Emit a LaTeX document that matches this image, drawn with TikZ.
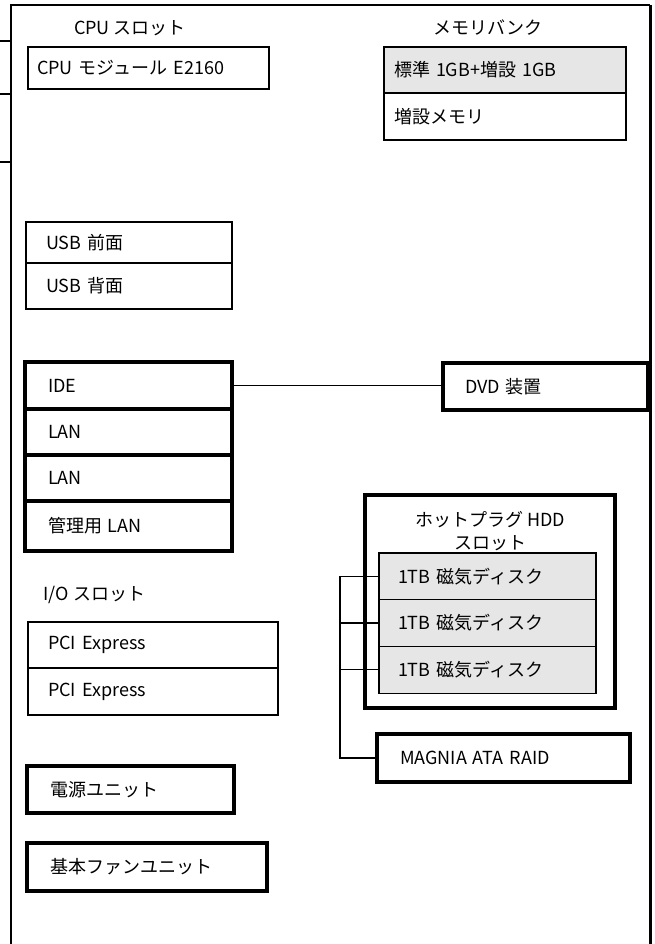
\documentclass[tikz,border=0pt]{standalone}
\usepackage{fontspec}
\setmainfont{Noto Sans CJK JP}
\usepackage{xcolor}
\usepackage{tikz}
\usetikzlibrary{positioning}

\definecolor{slotgray}{HTML}{E6E6E6}

\begin{document}
\begin{tikzpicture}[x=1pt, y=-1pt,
    font=\fontsize{18pt}{23pt}\selectfont,
    part/.style n args={3}{draw, anchor=north west, outer sep=0pt, align=left,
        inner ysep=0pt, text width={#1pt-2*#3pt}, inner xsep=#3pt, minimum height=#2pt},
    heavy/.style={line width=3.2pt},
    light/.style={line width=1.1pt},
    bus/.style={line width=1.3pt}]
    \useasboundingbox (0,0) rectangle (655,944);

    % Draw the chassis outline
    \draw[line width=2.2pt] (11,944) |- (650,5);
    \draw[line width=3pt] (650,5) -- (650,944);
    \foreach \y in {41,94,162} {
        \coordinate (stubL\y) at (0,\y);
        \coordinate (stubR\y) at (11,\y);
        \draw[line width=1.5pt] (stubL\y) -- (stubR\y);
    }

    % CPU slot and memory bank
    \node (cputitle) at (130,28) {CPU スロット};
    \node[part={241}{42}{9}, line width=2.4pt] (cpu) at (28,47) {CPU モジュール E2160};
    \node (memtitle) at (488,28) {メモリバンク};
    \node[part={242}{46}{10}, line width=2.4pt, fill=slotgray] (mem1) at (384,47) {標準 1GB+増設 1GB};
    \node[part={242}{47}{10}, light, below=0pt of mem1] (mem2) {増設メモリ};

    % USB ports
    \node[part={206}{41}{20}, light] (usbf) at (26,222) {USB 前面};
    \node[part={206}{46}{20}, light, below=0pt of usbf] (usbb) {USB 背面};

    % On-board interfaces
    \node[part={207}{47}{23}, heavy] (ide) at (25,362) {IDE};
    \node[part={207}{46}{23}, heavy, below=0pt of ide] (lan1) {LAN};
    \node[part={207}{46}{23}, heavy, below=0pt of lan1] (lan2) {LAN};
    \node[part={207}{50}{23}, heavy, below=0pt of lan2] (mgmt) {管理用 LAN};
    \node[part={205}{47}{22}, heavy] (dvd) at (443,363) {DVD 装置};
    \draw[light] (ide.east) -- (ide.east -| dvd.west);

    % I/O slots
    \node[anchor=west] (iotitle) at (40,595) {I/O スロット};
    \node[part={250}{46}{20}, light] (pci1) at (28,622) {PCI Express};
    \node[part={250}{47}{20}, light, below=0pt of pci1] (pci2) {PCI Express};

    % Power and fan
    \node[part={207}{47}{23}, heavy] (psu) at (27,766) {電源ユニット};
    \node[part={240}{48}{23}, heavy] (fan) at (27,843) {基本ファンユニット};

    % Hot-plug HDD slot with disks
    \node[draw, heavy, anchor=north west, outer sep=0pt, minimum width=250pt, minimum height=213pt] (hddslot) at (365,495) {};
    \node[align=center, inner sep=0pt] (hddtitle) at (490,531) {ホットプラグ HDD\\スロット};
    \foreach \i in {1,2,3} {
        \node[part={217}{46.7}{19}, light, fill=slotgray] (disk\i) at (379,{553+(\i-1)*46.7}) {1TB 磁気ディスク};
    }
    \node[part={253}{48}{23}, heavy] (raid) at (377,734) {MAGNIA ATA RAID};

    % RAID bus to the disks
    \coordinate (busx) at (340,0);
    \draw[bus] (raid.west) -| (busx |- disk1.west) -- (disk1.west);
    \foreach \i in {2,3} {
        \draw[bus] (busx |- disk\i.west) -- (disk\i.west);
    }
\end{tikzpicture}
\end{document}
